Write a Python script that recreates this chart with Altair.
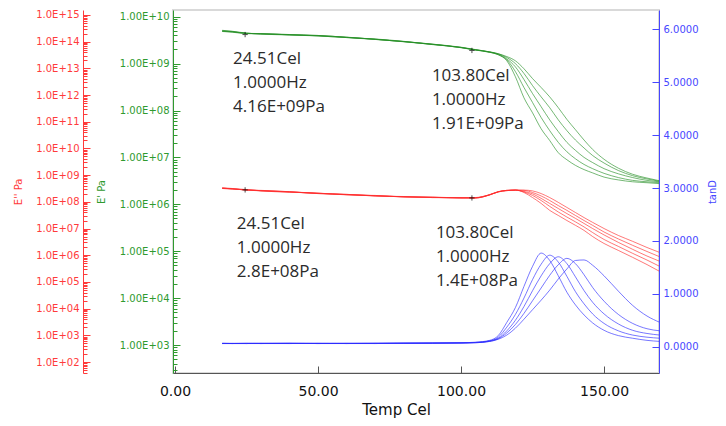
import altair as alt
import pandas as pd

# ---------------- data ----------------
temps = [16.5, 20, 25, 30, 40, 50, 60, 70, 80, 90, 100, 105, 110, 113, 116, 119,
         122, 125, 128, 131, 134, 137, 140, 143, 146, 150, 155, 160, 165, 169.5]
curve_names = ["f1", "f2", "f3", "f4", "f5"]

# E' (storage modulus), log10(Pa)
storage_log10 = {
    "f1": [9.71, 9.69, 9.65, 9.63, 9.61, 9.60, 9.56, 9.52, 9.47, 9.41, 9.34, 9.29, 9.24,
           9.19, 9.06, 8.72, 8.27, 7.95, 7.61, 7.36, 7.10, 6.95, 6.83, 6.74, 6.67, 6.58, 6.52, 6.48, 6.46, 6.44],
    "f2": [9.70, 9.685, 9.645, 9.64, 9.62, 9.59, 9.555, 9.525, 9.475, 9.405, 9.345, 9.295, 9.245,
           9.19, 9.08, 8.83, 8.49, 8.17, 7.85, 7.57, 7.32, 7.12, 6.97, 6.85, 6.76, 6.66, 6.57, 6.51, 6.48, 6.46],
    "f3": [9.695, 9.68, 9.64, 9.635, 9.615, 9.595, 9.565, 9.515, 9.47, 9.415, 9.34, 9.29, 9.245,
           9.20, 9.10, 8.93, 8.66, 8.36, 8.08, 7.80, 7.55, 7.32, 7.15, 7.00, 6.89, 6.76, 6.65, 6.57, 6.51, 6.48],
    "f4": [9.69, 9.675, 9.65, 9.63, 9.62, 9.60, 9.56, 9.52, 9.465, 9.41, 9.345, 9.295, 9.25,
           9.21, 9.13, 9.00, 8.79, 8.53, 8.29, 8.06, 7.80, 7.57, 7.37, 7.20, 7.04, 6.88, 6.72, 6.61, 6.54, 6.49],
    "f5": [9.685, 9.67, 9.64, 9.64, 9.61, 9.59, 9.555, 9.515, 9.47, 9.415, 9.35, 9.30, 9.25,
           9.21, 9.15, 9.06, 8.89, 8.68, 8.49, 8.29, 8.06, 7.81, 7.59, 7.37, 7.17, 6.96, 6.77, 6.64, 6.56, 6.50],
}

# E'' (loss modulus), log10(Pa)
loss_log10 = {
    "f1": [8.53, 8.50, 8.46, 8.41, 8.36, 8.33, 8.26, 8.24, 8.18, 8.17, 8.14, 8.15, 8.27, 8.37, 8.43, 8.44,
           8.35, 8.16, 7.94, 7.68, 7.49, 7.30, 7.12, 6.93, 6.70, 6.44, 6.18, 5.92, 5.65, 5.39],
    "f2": [8.51, 8.49, 8.44, 8.43, 8.38, 8.31, 8.28, 8.22, 8.20, 8.16, 8.16, 8.14, 8.26, 8.38, 8.42, 8.44,
           8.37, 8.24, 8.05, 7.83, 7.62, 7.43, 7.25, 7.06, 6.85, 6.59, 6.33, 6.07, 5.82, 5.58],
    "f3": [8.50, 8.48, 8.45, 8.42, 8.37, 8.32, 8.27, 8.23, 8.19, 8.18, 8.15, 8.15, 8.26, 8.38, 8.43, 8.44,
           8.39, 8.30, 8.13, 7.94, 7.75, 7.56, 7.38, 7.19, 7.00, 6.76, 6.48, 6.22, 5.97, 5.77],
    "f4": [8.52, 8.48, 8.45, 8.42, 8.38, 8.32, 8.28, 8.23, 8.19, 8.17, 8.15, 8.16, 8.27, 8.38, 8.43, 8.44,
           8.43, 8.35, 8.22, 8.05, 7.86, 7.68, 7.49, 7.30, 7.12, 6.87, 6.61, 6.37, 6.14, 5.94],
    "f5": [8.50, 8.49, 8.44, 8.41, 8.37, 8.31, 8.27, 8.22, 8.19, 8.16, 8.15, 8.15, 8.26, 8.37, 8.42, 8.44,
           8.44, 8.41, 8.31, 8.16, 7.98, 7.79, 7.60, 7.41, 7.23, 7.00, 6.74, 6.52, 6.29, 6.10],
}

# tan delta
tan_delta = {
    "f1": [0.06, 0.06, 0.065, 0.06, 0.065, 0.06, 0.065, 0.065, 0.07, 0.07, 0.075, 0.085, 0.12, 0.21, 0.46, 0.74,
           1.14, 1.52, 1.77, 1.63, 1.34, 1.03, 0.79, 0.60, 0.45, 0.31, 0.21, 0.16, 0.12, 0.10],
    "f2": [0.065, 0.06, 0.06, 0.065, 0.06, 0.065, 0.06, 0.065, 0.065, 0.07, 0.075, 0.08, 0.11, 0.18, 0.37, 0.61,
           0.92, 1.27, 1.56, 1.73, 1.60, 1.33, 1.04, 0.81, 0.62, 0.44, 0.30, 0.22, 0.18, 0.16],
    "f3": [0.06, 0.065, 0.06, 0.06, 0.065, 0.06, 0.065, 0.06, 0.065, 0.07, 0.07, 0.08, 0.11, 0.16, 0.30, 0.50,
           0.76, 1.06, 1.34, 1.57, 1.70, 1.57, 1.32, 1.06, 0.84, 0.62, 0.43, 0.31, 0.25, 0.22],
    "f4": [0.065, 0.06, 0.065, 0.06, 0.06, 0.065, 0.06, 0.065, 0.065, 0.065, 0.07, 0.075, 0.10, 0.15, 0.26, 0.42,
           0.63, 0.87, 1.11, 1.35, 1.55, 1.67, 1.57, 1.36, 1.12, 0.86, 0.61, 0.44, 0.34, 0.30],
    "f5": [0.06, 0.06, 0.06, 0.065, 0.065, 0.06, 0.06, 0.06, 0.065, 0.065, 0.07, 0.075, 0.10, 0.14, 0.22, 0.35,
           0.52, 0.70, 0.88, 1.07, 1.28, 1.47, 1.63, 1.64, 1.54, 1.34, 1.05, 0.78, 0.58, 0.46],
}

marker_temps = [24.51, 103.80]
storage_markers = [4.16e9, 1.91e9]
loss_markers = [2.8e8, 1.4e8]

# annotation blocks: anchor temperature, anchor on the tanD axis, text
ann_temp = [20.3, 89.8, 21.6, 91.2]
ann_tand = [5.59, 5.27, 2.47, 2.31]
ann_text = [
    "24.51Cel\n1.0000Hz\n4.16E+09Pa",
    "103.80Cel\n1.0000Hz\n1.91E+09Pa",
    "24.51Cel\n1.0000Hz\n2.8E+08Pa",
    "103.80Cel\n1.0000Hz\n1.4E+08Pa",
]

x_ticks = [0, 50, 100, 150]
tand_ticks = [0, 1, 2, 3, 4, 5, 6]

# ---------------- tables ----------------
rows = []
for name in curve_names:
    for t, g, r, b in zip(temps, storage_log10[name], loss_log10[name], tan_delta[name]):
        rows.append({"temp": t, "curve": name, "Estor": 10 ** g, "Eloss": 10 ** r, "tand": b})
df = pd.DataFrame(rows)

gm = pd.DataFrame({"temp": marker_temps, "value": storage_markers})
rm = pd.DataFrame({"temp": marker_temps, "value": loss_markers})
ann = pd.DataFrame({"temp": ann_temp, "pos": ann_tand, "label": ann_text})

# ---------------- scales & axes ----------------
W, H = 486, 363
RED, GREEN, BLUE = "#ff3b3b", "#2f9a2f", "#4747ff"
FONT = "DejaVu Sans"

xs = alt.Scale(domain=[-0.7, 169.2], nice=False, zero=False)
gs = alt.Scale(type="log", domain=[10 ** 2.403, 10 ** 10.143], nice=False)
rs = alt.Scale(type="log", domain=[10 ** 1.588, 10 ** 15.187], nice=False)
bs = alt.Scale(domain=[-0.497, 6.365], nice=False, zero=False)


def log_ticks(lo_exp, hi_exp):
    lo, hi = 10 ** lo_exp, 10 ** hi_exp
    return [k * 10 ** n for n in range(0, 17) for k in range(1, 10) if lo <= k * 10 ** n <= hi]


MAJOR_TEST = "abs(log(datum.value)/LN10 - round(log(datum.value)/LN10)) < 0.001"


def label_axis(orient, offset, color, values, title, title_x, label_expr=None, fmt=None):
    kw = dict(orient=orient, offset=offset, values=values, ticks=False, tickSize=0,
              labelPadding=4, labelColor=color, labelFont=FONT, labelFontSize=10,
              domainColor=color, domainWidth=1, grid=False, title=title, titleColor=color,
              titleFont=FONT, titleFontSize=10, titleFontWeight="normal", titleAngle=270,
              titleAlign="center", titleBaseline="middle", titleX=title_x, titleY=H / 2)
    if label_expr:
        kw["labelExpr"] = label_expr
    if fmt:
        kw["format"] = fmt
    return alt.Axis(**kw)


def tick_axis(orient, offset, color, values, log=True):
    size = {"condition": {"test": MAJOR_TEST, "value": 7}, "value": 4} if log else 7
    return alt.Axis(orient=orient, offset=offset, values=values, labels=False, domain=False,
                    grid=False, title=None, tickColor=color, tickWidth=1, tickSize=size)


x_bottom = alt.Axis(orient="bottom", values=x_ticks, format=".2f", ticks=False, tickSize=0,
                    labelPadding=11, labelFont=FONT, labelFontSize=14, labelColor="#111",
                    domainColor="#555", grid=False, title="Temp Cel", titleFont=FONT,
                    titleFontSize=15, titleFontWeight="normal", titleColor="#111",
                    titleX=223, titleY=36, titleBaseline="middle", titleAlign="center")
x_top_ticks = alt.Axis(orient="top", offset=-H, values=x_ticks, labels=False, domain=False,
                       grid=False, title=None, tickSize=7, tickColor="#555")

green_expr = "'1.00E+' + format(round(log(datum.value)/LN10), '02d')"
red_expr = "'1.0E+' + format(round(log(datum.value)/LN10), '02d')"

line_kw = dict(strokeWidth=0.8, opacity=0.8, clip=True, interpolate="monotone")
cross = "M-1,0L1,0M0,-1L0,1"

base = alt.Chart(df)

green_lines = base.mark_line(color="#259025", **line_kw).encode(
    x=alt.X("temp:Q", scale=xs, axis=x_bottom),
    y=alt.Y("Estor:Q", scale=gs,
            axis=label_axis("left", 0, GREEN, [10 ** n for n in range(3, 11)], "E' Pa", -72,
                            label_expr=green_expr)),
    detail="curve:N",
)
green_marks = alt.Chart(gm).mark_point(shape=cross, size=28, color="black", strokeWidth=1,
                                       filled=False).encode(
    x=alt.X("temp:Q", scale=xs, axis=x_top_ticks),
    y=alt.Y("value:Q", scale=gs, axis=tick_axis("right", -W, GREEN, log_ticks(2.403, 10.143))),
)

red_lines = base.mark_line(color="#ff2a2a", **line_kw).encode(
    x=alt.X("temp:Q", scale=xs, axis=None),
    y=alt.Y("Eloss:Q", scale=rs,
            axis=label_axis("left", 90, RED, [10 ** n for n in range(2, 16)], "E'' Pa", -65,
                            label_expr=red_expr)),
    detail="curve:N",
)
red_marks = alt.Chart(rm).mark_point(shape=cross, size=28, color="black", strokeWidth=1,
                                     filled=False).encode(
    x=alt.X("temp:Q", scale=xs, axis=None),
    y=alt.Y("value:Q", scale=rs, axis=tick_axis("right", -(W + 90), RED, log_ticks(1.588, 15.187))),
)

blue_lines = base.mark_line(color="#2a2aff", **line_kw).encode(
    x=alt.X("temp:Q", scale=xs, axis=None),
    y=alt.Y("tand:Q", scale=bs,
            axis=label_axis("right", 0, BLUE, tand_ticks, "tanD", 53, fmt=".4f")),
    detail="curve:N",
)
ann_text_layer = alt.Chart(ann).mark_text(align="left", baseline="top", lineBreak="\n",
                                          lineHeight=24, font="Open Sans", fontSize=17,
                                          color="#2b2b2b").encode(
    x=alt.X("temp:Q", scale=xs, axis=None),
    y=alt.Y("pos:Q", scale=bs, axis=tick_axis("left", -W, BLUE, tand_ticks, log=False)),
    text="label:N",
)

green = alt.layer(green_lines, green_marks)
red = alt.layer(red_lines, red_marks)
blue = alt.layer(blue_lines, ann_text_layer)

chart = (
    alt.layer(green, red, blue)
    .resolve_scale(y="independent")
    .properties(width=W, height=H, autosize=alt.AutoSizeParams(type="none"),
                padding={"left": 165, "top": 2, "right": 59, "bottom": 45},
                background="white")
    .configure_view(stroke="#d9d9d9", strokeWidth=2)
)

chart.save("out.html", embed_options={"renderer": "svg", "actions": False})
